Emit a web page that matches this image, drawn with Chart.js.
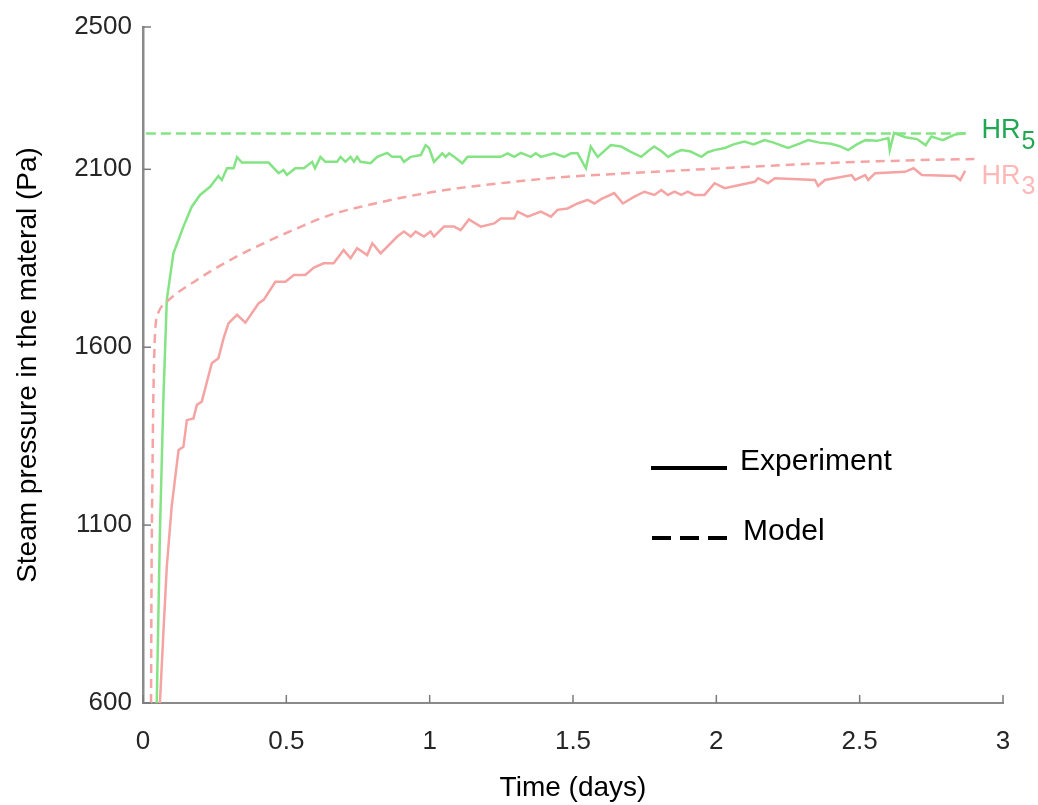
<!DOCTYPE html>
<html>
<head>
<meta charset="utf-8">
<script src="https://cdn.jsdelivr.net/npm/chart.js@4.4.1/dist/chart.umd.min.js"></script>
<style>
  body { margin: 0; background: #fff; }
  #wrap { width: 1038px; height: 805px; }
</style>
</head>
<body>
<div id="wrap"><canvas id="steamChart" width="1038" height="805"></canvas></div>
<script>
// Time axis (days) and steam pressure (Pa)
const hr5ExpTime = [0.048, 0.059, 0.071, 0.083, 0.106, 0.141, 0.17, 0.199, 0.234, 0.263, 0.275, 0.293, 0.316, 0.328, 0.345,
  0.438, 0.473, 0.49, 0.502, 0.531, 0.561, 0.59, 0.6, 0.619, 0.636, 0.677, 0.689, 0.706, 0.724, 0.736, 0.747, 0.759, 0.794,
  0.817, 0.852, 0.869, 0.899, 0.91, 0.934, 0.969, 0.986, 0.998, 1.015, 1.044, 1.056, 1.068, 1.085, 1.114, 1.132, 1.248,
  1.272, 1.295, 1.318, 1.353, 1.37, 1.388, 1.434, 1.469, 1.493, 1.516, 1.545, 1.562, 1.586, 1.632, 1.668, 1.70, 1.738,
  1.76, 1.783, 1.81, 1.832, 1.86, 1.878, 1.91, 1.948, 1.97, 1.993, 2.03, 2.06, 2.098, 2.13, 2.168, 2.20, 2.25, 2.29,
  2.32, 2.36, 2.40, 2.43, 2.46, 2.49, 2.52, 2.56, 2.60, 2.605, 2.62, 2.66, 2.70, 2.73, 2.75, 2.79, 2.83, 2.87];
const hr5ExpValues = [600, 1078, 1452, 1733, 1864, 1939, 1995, 2028, 2051, 2081, 2070, 2103, 2103, 2134, 2119,
  2119, 2089, 2098, 2084, 2103, 2103, 2121, 2103, 2135, 2121, 2121, 2135, 2121, 2135, 2121, 2135, 2121, 2117,
  2135, 2146, 2135, 2135, 2121, 2135, 2140, 2168, 2160, 2121, 2145, 2135, 2145, 2135, 2117, 2135, 2135,
  2145, 2135, 2146, 2135, 2145, 2135, 2145, 2135, 2145, 2145, 2103, 2164, 2135, 2168, 2164, 2150, 2135,
  2150, 2164, 2150, 2135, 2148, 2154, 2150, 2135, 2148, 2154, 2160, 2170, 2178, 2170, 2182, 2175, 2160, 2172,
  2182, 2175, 2172, 2165, 2154, 2170, 2182, 2180, 2188, 2154, 2202, 2190, 2185, 2168, 2192, 2182, 2197, 2202];

const hr3ExpTime = [0.059, 0.071, 0.083, 0.1, 0.124, 0.141, 0.153, 0.176, 0.188, 0.205, 0.223, 0.24, 0.263, 0.281, 0.298,
  0.328, 0.357, 0.403, 0.421, 0.462, 0.497, 0.526, 0.566, 0.596, 0.63, 0.665, 0.7, 0.724, 0.747, 0.782, 0.8, 0.829,
  0.887, 0.91, 0.934, 0.951, 0.98, 1.003, 1.015, 1.05, 1.085, 1.108, 1.137, 1.178, 1.225, 1.248, 1.295, 1.307, 1.342,
  1.388, 1.423, 1.446, 1.481, 1.516, 1.551, 1.575, 1.598, 1.644, 1.674, 1.714, 1.749, 1.784, 1.808, 1.831, 1.854,
  1.878, 1.9, 1.924, 1.959, 1.994, 2.029, 2.134, 2.146, 2.18, 2.204, 2.344, 2.355, 2.379, 2.472, 2.484, 2.519, 2.53,
  2.554, 2.658, 2.688, 2.717, 2.833, 2.851, 2.868];
const hr3ExpValues = [600, 796, 983, 1152, 1311, 1320, 1395, 1400, 1438, 1447, 1503, 1555, 1569, 1625, 1667,
  1691, 1669, 1723, 1733, 1784, 1784, 1803, 1803, 1824, 1836, 1836, 1873, 1850, 1878, 1859, 1892, 1864,
  1911, 1925, 1911, 1925, 1911, 1925, 1911, 1939, 1939, 1929, 1959, 1939, 1948, 1962, 1962, 1981, 1967,
  1981, 1967, 1986, 1990, 2004, 2014, 2004, 2016, 2033, 2004, 2023, 2037, 2028, 2042, 2028, 2037,
  2028, 2037, 2028, 2028, 2061, 2047, 2065, 2075, 2061, 2075, 2070, 2053, 2070, 2084, 2070, 2084, 2070,
  2089, 2093, 2103, 2084, 2081, 2070, 2096];

const hr5ModelTime = [0.01, 2.87];
const hr5ModelValues = [2201, 2201];

const hr3ModelTime = [0.028, 0.03, 0.033, 0.036, 0.042, 0.055, 0.077, 0.188, 0.304, 0.421, 0.537, 0.654, 0.782,
  1.015, 1.248, 1.481, 1.714, 2.02, 2.367, 2.717, 2.9];
const hr3ModelValues = [600, 983, 1250, 1452, 1639, 1700, 1723, 1789, 1845, 1892, 1934, 1972, 1999,
  2037, 2061, 2079, 2090, 2103, 2117, 2126, 2129];

const yTickValues = [600, 1100, 1600, 2100, 2500];
const xTickValues = [0, 0.5, 1, 1.5, 2, 2.5, 3];

const greenLine = "#84e484";
const redLine = "#f6a3a3";
const fontFamily = "'Liberation Sans', Arial, sans-serif";

function toPoints(xs, ys) {
  return xs.map((x, i) => ({ x: x, y: ys[i] }));
}

// small inward tick marks on both axes
const inwardTicks = {
  id: "inwardTicks",
  afterDraw(chart) {
    const { ctx, chartArea, scales } = chart;
    ctx.save();
    ctx.strokeStyle = "#7a7a7a";
    ctx.lineWidth = 1.5;
    xTickValues.forEach((v) => {
      const px = scales.x.getPixelForValue(v);
      ctx.beginPath();
      ctx.moveTo(px, chartArea.bottom);
      ctx.lineTo(px, chartArea.bottom - 8);
      ctx.stroke();
    });
    yTickValues.forEach((v) => {
      const py = scales.y.getPixelForValue(v);
      ctx.beginPath();
      ctx.moveTo(chartArea.left, py);
      ctx.lineTo(chartArea.left + 8, py);
      ctx.stroke();
    });
    ctx.restore();
  },
};

// HR labels at the right end and the line-style key
const annotations = {
  id: "annotations",
  afterDraw(chart) {
    const { ctx, chartArea, scales } = chart;
    ctx.save();

    function subLabel(text, sub, color, value) {
      const px = scales.x.getPixelForValue(2.925);
      const py = scales.y.getPixelForValue(value);
      ctx.fillStyle = color;
      ctx.textBaseline = "middle";
      ctx.textAlign = "left";
      ctx.font = "27px " + fontFamily;
      ctx.fillText(text, px, py);
      const w = ctx.measureText(text).width;
      ctx.font = "25px " + fontFamily;
      ctx.fillText(sub, px + w + 1, py + 11);
    }
    subLabel("HR", "5", "#1fa852", 2208);
    subLabel("HR", "3", "#ffb8b8", 2081);

    // key: solid = experiment, dashed = model
    const kx = chartArea.left + 508;
    ctx.strokeStyle = "#000";
    ctx.lineWidth = 4;
    ctx.beginPath();
    ctx.moveTo(kx, 468);
    ctx.lineTo(kx + 76, 468);
    ctx.stroke();
    ctx.setLineDash([19, 9]);
    ctx.beginPath();
    ctx.moveTo(kx + 1, 538);
    ctx.lineTo(kx + 76, 538);
    ctx.stroke();
    ctx.setLineDash([]);

    ctx.fillStyle = "#000";
    ctx.font = "30px " + fontFamily;
    ctx.textBaseline = "alphabetic";
    ctx.fillText("Experiment", kx + 89, 470);
    ctx.fillText("Model", kx + 92, 540);
    ctx.restore();
  },
};

const ctx = document.getElementById("steamChart").getContext("2d");
new Chart(ctx, {
  type: "line",
  data: {
    datasets: [
      {
        label: "HR5 model",
        data: toPoints(hr5ModelTime, hr5ModelValues),
        borderColor: greenLine,
        borderWidth: 2.5,
        borderDash: [10, 5],
        pointRadius: 0,
        tension: 0,
      },
      {
        label: "HR3 model",
        data: toPoints(hr3ModelTime, hr3ModelValues),
        borderColor: redLine,
        borderWidth: 2.5,
        borderDash: [9, 6],
        pointRadius: 0,
        cubicInterpolationMode: "monotone",
      },
      {
        label: "HR5 experiment",
        data: toPoints(hr5ExpTime, hr5ExpValues),
        borderColor: greenLine,
        borderWidth: 2.5,
        pointRadius: 0,
        tension: 0,
      },
      {
        label: "HR3 experiment",
        data: toPoints(hr3ExpTime, hr3ExpValues),
        borderColor: redLine,
        borderWidth: 2.5,
        pointRadius: 0,
        tension: 0,
      },
    ],
  },
  options: {
    responsive: false,
    animation: false,
    devicePixelRatio: 1,
    layout: { padding: { left: 0, top: 27, right: 35, bottom: 0 } },
    plugins: {
      legend: { display: false },
      tooltip: { enabled: false },
    },
    scales: {
      x: {
        type: "linear",
        min: 0,
        max: 3,
        afterBuildTicks: (scale) => {
          scale.ticks = xTickValues.map((v) => ({ value: v }));
        },
        afterFit: (scale) => {
          scale.height = 102;
        },
        grid: { drawOnChartArea: false, drawTicks: false },
        border: { color: "#8a8a8a", width: 2 },
        ticks: {
          padding: 23,
          color: "#262626",
          font: { family: fontFamily, size: 26 },
          maxRotation: 0,
          callback: (v) => String(v),
        },
        title: {
          display: true,
          text: "Time (days)",
          color: "#000",
          font: { family: fontFamily, size: 28 },
          padding: { top: 0, bottom: 0 },
        },
      },
      y: {
        type: "linear",
        min: 600,
        max: 2500,
        afterBuildTicks: (scale) => {
          scale.ticks = yTickValues.map((v) => ({ value: v }));
        },
        afterFit: (scale) => {
          scale.width = 143;
        },
        grid: { drawOnChartArea: false, drawTicks: false },
        border: { color: "#8a8a8a", width: 2.5 },
        ticks: {
          padding: 11,
          color: "#262626",
          font: { family: fontFamily, size: 26 },
          callback: (v) => String(v),
        },
        title: {
          display: true,
          text: "Steam pressure in the materal (Pa)",
          color: "#000",
          font: { family: fontFamily, size: 28 },
          padding: { top: 11, bottom: 0 },
        },
      },
    },
  },
  plugins: [inwardTicks, annotations],
});
</script>
</body>
</html>
